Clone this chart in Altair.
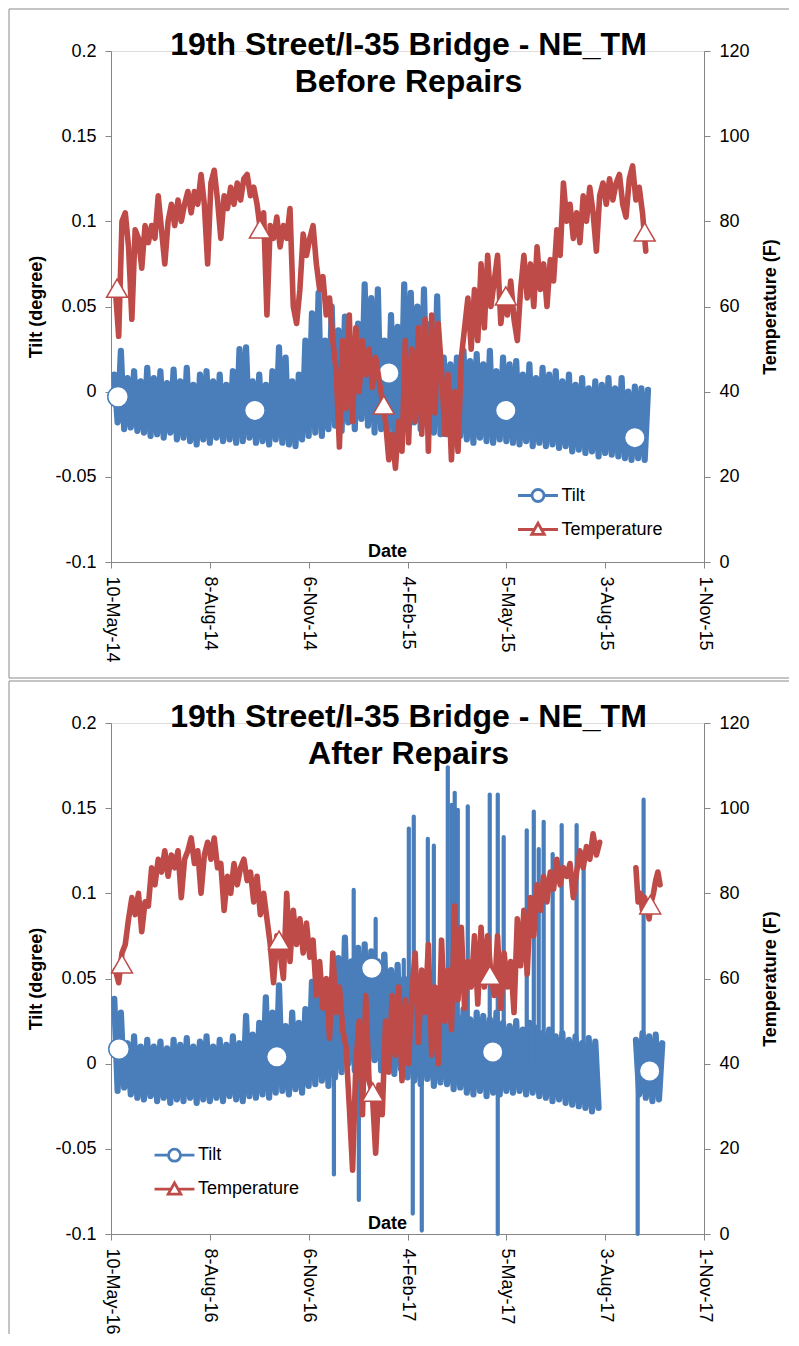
import altair as alt
import pandas as pd

BLUE = "#4a7ebb"
RED = "#be4b48"
GRAY = "#868686"
FRAME = "#8a8a8a"
FONT = "Liberation Sans"
SERIES = ["Tilt", "Temperature"]
TILT_TICKS = [-0.1, -0.05, 0, 0.05, 0.1, 0.15, 0.2]
TEMP_TICKS = [0, 20, 40, 60, 80, 100, 120]

# ---------------- Panel 1 : before repairs ----------------
P1_START = "2014-05-10"
P1_TICKS = ["2014-05-10", "2014-08-08", "2014-11-06", "2015-02-04",
            "2015-05-05", "2015-08-03", "2015-11-01"]
P1_TITLE = ["19th Street/I-35 Bridge - NE_TM", "Before Repairs"]

P1_TILT_DAYS = list(range(3, 490, 3))
P1_TILT = [
    0.010, -0.018, 0.024, -0.022, 0.008, -0.021, 0.012, -0.023, 0.006, -0.024,
    0.014, -0.026, 0.008, -0.025, 0.012, -0.027, 0.005, -0.024, 0.013, -0.028,
    0.006, -0.027, 0.014, -0.029, 0.004, -0.031, 0.010, -0.028, 0.012, -0.030,
    0.006, -0.027, 0.010, -0.029, 0.004, -0.028, 0.012, -0.030, 0.025, -0.029,
    0.026, -0.027, 0.006, -0.030, 0.010, -0.029, 0.004, -0.031, 0.012, -0.028,
    0.026, -0.030, 0.020, -0.031, 0.006, -0.032, 0.010, -0.028, 0.030, -0.026,
    0.046, -0.024, 0.058, -0.026, 0.030, -0.022, 0.050, -0.020, 0.036, -0.023,
    0.044, -0.018, 0.030, -0.022, 0.040, -0.016, 0.063, -0.020, 0.055, -0.024,
    0.060, -0.022, 0.030, -0.024, 0.045, -0.026, 0.038, -0.022, 0.063, -0.020,
    0.058, -0.018, 0.050, -0.022, 0.060, -0.020, 0.040, -0.024, 0.056, -0.025,
    0.020, -0.025, 0.016, -0.023, 0.020, -0.026, 0.024, -0.028, 0.018, -0.030,
    0.022, -0.027, 0.016, -0.029, 0.024, -0.030, 0.012, -0.028, 0.020, -0.029,
    0.016, -0.030, 0.018, -0.031, 0.010, -0.029, 0.016, -0.032, 0.008, -0.030,
    0.014, -0.032, 0.010, -0.031, 0.012, -0.033, 0.006, -0.032, 0.010, -0.035,
    0.004, -0.034, 0.008, -0.036, 0.002, -0.035, 0.006, -0.038, 0.004, -0.036,
    0.008, -0.037, 0.002, -0.038, 0.008, -0.039, 0.000, -0.040, 0.003, -0.039,
    0.002, -0.040, 0.001,
]
P1_TEMP_DAYS = list(range(4, 488, 3))
P1_TEMP = [
    64, 53, 80, 82, 74, 57, 78, 76, 69, 79,
    75, 79, 76, 86, 78, 70, 80, 84, 79, 85,
    80, 84, 87, 82, 87, 84, 91, 84, 70, 89,
    92, 85, 76, 86, 83, 88, 84, 89, 85, 90,
    91, 86, 88, 84, 78, 82, 58, 79, 76, 81,
    74, 79, 76, 83, 60, 56, 64, 77, 72, 76,
    79, 70, 64, 67, 58, 62, 52, 45, 27, 52,
    36, 58, 33, 55, 40, 52, 44, 50, 41, 48,
    43, 38, 33, 24, 30, 22, 33, 26, 52, 28,
    50, 33, 55, 30, 57, 26, 58, 35, 56, 45,
    30, 44, 24, 40, 26, 48, 55, 62, 50, 64,
    52, 70, 55, 72, 60, 66, 72, 56, 63, 58,
    66, 57, 52, 64, 72, 62, 70, 60, 74, 64,
    70, 60, 71, 66, 78, 72, 89, 80, 84, 76,
    82, 75, 86, 80, 88, 82, 73, 86, 89, 84,
    90, 85, 89, 91, 84, 81, 90, 93, 85, 88,
    82, 73,
]
P1_CIRC_DAYS = [6.4, 131, 253, 359.5, 477]
P1_CIRC = [-0.003, -0.011, 0.011, -0.011, -0.027]
P1_TRI_DAYS = [5.5, 135.6, 248.4, 359.5, 486]
P1_TRI = [64.3, 78.2, 36.9, 62.5, 77.5]

# ---------------- Panel 2 : after repairs ----------------
P2_START = "2016-05-10"
P2_TICKS = ["2016-05-10", "2016-08-08", "2016-11-06", "2017-02-04",
            "2017-05-05", "2017-08-03", "2017-11-01"]
P2_TITLE = ["19th Street/I-35 Bridge - NE_TM", "After Repairs"]

P2_TILT_DAYS_A = list(range(3, 445, 3))
P2_TILT_A = [
    0.038, -0.016, 0.030, -0.014, 0.012, -0.018, 0.016, -0.020, 0.010, -0.021,
    0.014, -0.019, 0.010, -0.022, 0.013, -0.020, 0.009, -0.023, 0.014, -0.021,
    0.011, -0.022, 0.015, -0.020, 0.010, -0.023, 0.013, -0.021, 0.016, -0.022,
    0.010, -0.020, 0.014, -0.022, 0.011, -0.019, 0.016, -0.021, 0.012, -0.022,
    0.028, -0.019, 0.017, -0.020, 0.024, -0.018, 0.039, -0.020, 0.030, -0.017,
    0.046, -0.016, 0.022, -0.018, 0.030, -0.015, 0.024, -0.017, 0.032, -0.013,
    0.048, -0.012, 0.055, -0.010, 0.040, -0.013, 0.050, -0.008, 0.062, -0.005,
    0.074, 0.000, 0.060, -0.004, 0.068, -0.006, 0.070, -0.002, 0.066, 0.002,
    0.060, -0.004, 0.064, 0.000, 0.055, -0.006, 0.058, -0.003, 0.050, -0.008,
    0.052, -0.010, 0.045, -0.012, 0.050, -0.009, 0.046, -0.013, 0.040, -0.011,
    0.036, -0.012, 0.030, -0.015, 0.028, -0.014, 0.032, -0.017, 0.026, -0.018,
    0.030, -0.016, 0.028, -0.019, 0.026, -0.017, 0.030, -0.018, 0.024, -0.016,
    0.022, -0.017, 0.025, -0.016, 0.020, -0.018, 0.024, -0.017, 0.021, -0.019,
    0.018, -0.020, 0.020, -0.022, 0.016, -0.021, 0.018, -0.023, 0.014, -0.024,
    0.016, -0.025, 0.012, -0.026, 0.015, -0.028, 0.013, -0.026,
]
P2_TILT_DAYS_B = list(range(478, 503, 3))
P2_TILT_B = [0.014, -0.018, 0.018, -0.020, 0.016, -0.022, 0.017, -0.021, 0.012]

P2_TEMP_DAYS_A = list(range(4, 446, 3))
P2_TEMP_A = [
    62, 59, 66, 68, 74, 79, 75, 80, 71, 78,
    77, 86, 82, 88, 85, 90, 84, 89, 86, 90,
    79, 88, 90, 93, 87, 90, 80, 89, 92, 88,
    93, 86, 87, 76, 84, 80, 87, 82, 86, 88,
    83, 85, 78, 84, 75, 80, 74, 68, 59, 70,
    66, 60, 80, 64, 76, 68, 74, 66, 73, 65,
    69, 56, 64, 53, 60, 46, 66, 52, 58, 48,
    44, 30, 15, 40, 50, 28, 56, 36, 33, 19,
    35, 28, 50, 38, 56, 42, 58, 36, 55, 40,
    57, 66, 45, 62, 52, 68, 42, 58, 40, 69,
    50, 62, 48, 77, 55, 72, 53, 64, 58, 70,
    54, 72, 58, 70, 61, 56, 70, 53, 66, 58,
    64, 52, 74, 63, 76, 61, 79, 70, 82, 76,
    84, 78, 85, 81, 88, 82, 86, 84, 87, 79,
    85, 90, 86, 91, 88, 94, 89, 92,
]
P2_TEMP_DAYS_B = list(range(478, 501, 2))
P2_TEMP_B = [86, 78, 80, 76, 79, 77, 74, 78, 80, 83, 85, 82]

P2_SPIKE_DAYS = [203.0, 221.0, 225.7, 241.0, 248.0, 266.6, 271.2, 274.8, 275.7,
                 283.0, 288.5, 294.0, 306.7, 310.3, 313.0, 315.8, 324.9, 344.9,
                 352.2, 357.6, 378.6, 385.0, 389.5, 394.0, 402.2, 410.4, 424.0,
                 430.4, 479.6, 485.0]
P2_SPIKE_TOP = [0.0, 0.102, 0.0, 0.085, 0.064, 0.061, 0.138, 0.0, 0.145,
                0.0, 0.132, 0.128, 0.174, 0.152, 0.159, 0.149, 0.151, 0.158,
                0.158, 0.133, 0.137, 0.148, 0.126, 0.142, 0.123, 0.140, 0.140,
                0.114, 0.005, 0.155]
P2_SPIKE_BOT = [-0.065, 0.020, -0.080, 0.020, 0.0, 0.0, 0.0, -0.088, 0.0,
                -0.098, 0.0, 0.0, 0.0, 0.0, 0.0, 0.0, 0.0, 0.0,
                -0.100, 0.0, 0.0, 0.0, 0.0, 0.0, 0.0, 0.0, 0.0,
                0.0, -0.100, 0.0]

P2_CIRC_DAYS = [7.3, 151, 237.5, 347.6, 490.5]
P2_CIRC = [0.0086, 0.004, 0.056, 0.0069, -0.0043]
P2_TRI_DAYS = [10, 153, 238.4, 345, 491]
P2_TRI = [63.4, 69.0, 33.3, 60.8, 77.3]

# legend symbols: line with circle / line with triangle (unit box, scaled by symbolSize)
SYM_CIRCLE = ("M-1.33,0H-0.4M0.4,0H1.33M-0.4,0A0.4,0.4,0,1,1,0.4,0"
              "A0.4,0.4,0,1,1,-0.4,0Z")
SYM_TRI = "M-1.33,0H-0.24M0.24,0H1.33M0,-0.42L0.42,0.33L-0.42,0.33Z"

W, H = 593, 511
TILT_W = 6.2
TEMP_W = 5.6


def to_dates(start, days):
    t0 = pd.Timestamp(start)
    return [(t0 + pd.Timedelta(days=float(d))).strftime("%Y-%m-%dT%H:%M:%S") for d in days]


def dtime(s):
    t = pd.Timestamp(s)
    return alt.DateTime(year=t.year, month=t.month, date=t.day)


def frame_line(x, x2, y, y2):
    return alt.Chart(pd.DataFrame({"k": [0]})).mark_rule(
        color=FRAME, strokeWidth=1).encode(
        x=alt.value(x), x2=alt.value(x2), y=alt.value(y), y2=alt.value(y2))


def make_panel(start, ticks, title, tilt_parts, temp_parts, circ, tri, spikes,
               legend_xy, frame_bottom, close_frame):
    x_enc = alt.X(
        "date:T",
        scale=alt.Scale(domain=[dtime(ticks[0]), dtime(ticks[-1])]),
        axis=alt.Axis(
            values=[dtime(t) for t in ticks], format="%-d-%b-%y",
            labelAngle=90, labelAlign="left", labelBaseline="middle",
            labelPadding=8, labelFontSize=18, labelFont=FONT, labelColor="black",
            labelFlush=False, labelOverlap=False,
            tickSize=6, tickColor=GRAY, domainColor=GRAY, grid=False,
            title="Date", titleFont=FONT, titleFontSize=18, titleFontWeight="bold",
            titleColor="black", titleX=276, titleY=-11, titleAlign="center",
            titleBaseline="middle"))
    tilt_y = alt.Y(
        "tilt:Q", scale=alt.Scale(domain=[-0.1, 0.2], nice=False, zero=False),
        axis=alt.Axis(
            values=TILT_TICKS, labelExpr="toString(round(datum.value*100)/100)",
            labelFontSize=18, labelFont=FONT, labelColor="black", labelPadding=9,
            labelFlush=False, labelOverlap=False,
            tickSize=6, tickColor=GRAY, domainColor=GRAY, grid=False,
            title="Tilt (degree)", titleFont=FONT, titleFontSize=18,
            titleFontWeight="bold", titleColor="black", titleAngle=270,
            titleX=-75, titleY=H / 2, titleAlign="center", titleBaseline="middle"))
    temp_y = alt.Y(
        "temp:Q", scale=alt.Scale(domain=[0, 120], nice=False, zero=False),
        axis=alt.Axis(
            orient="right", values=TEMP_TICKS, format="d",
            labelFontSize=18, labelFont=FONT, labelColor="black", labelPadding=9,
            labelFlush=False, labelOverlap=False,
            tickSize=6, tickColor=GRAY, domainColor=GRAY, grid=False,
            title="Temperature (F)", titleFont=FONT, titleFontSize=18,
            titleFontWeight="bold", titleColor="black", titleAngle=270,
            titleX=66, titleY=H / 2, titleAlign="center", titleBaseline="middle"))

    tilt_rows = []
    for seg, (days, vals) in enumerate(tilt_parts):
        for d, v in zip(to_dates(start, days), vals):
            tilt_rows.append({"date": d, "tilt": v, "seg": seg})
    temp_rows = []
    for seg, (days, vals) in enumerate(temp_parts):
        for d, v in zip(to_dates(start, days), vals):
            temp_rows.append({"date": d, "temp": v, "seg": seg})

    tilt_line = alt.Chart(pd.DataFrame(tilt_rows)).mark_line(
        color=BLUE, strokeWidth=TILT_W, strokeJoin="round", strokeCap="round").encode(
        x=x_enc, y=tilt_y, detail="seg:N")
    tilt_layers = [tilt_line]
    if spikes is not None:
        sd, st, sb = spikes
        sp_df = pd.DataFrame({"date": to_dates(start, sd), "tilt": st, "bot": sb})
        tilt_layers.append(
            alt.Chart(sp_df).mark_rule(color=BLUE, strokeWidth=4.2, strokeCap="round").encode(
                x=x_enc, y=tilt_y, y2="bot:Q"))
    circ_df = pd.DataFrame({"date": to_dates(start, circ[0]), "tilt": circ[1]})
    tilt_layers.append(
        alt.Chart(circ_df).mark_point(shape="circle", filled=True, fill="white",
                                      stroke=BLUE, strokeWidth=1.5, size=420,
                                      opacity=1).encode(x=x_enc, y=tilt_y))

    temp_line = alt.Chart(pd.DataFrame(temp_rows)).mark_line(
        color=RED, strokeWidth=TEMP_W, strokeJoin="round", strokeCap="round").encode(
        x=x_enc, y=temp_y, detail="seg:N")
    tri_df = pd.DataFrame({"date": to_dates(start, tri[0]), "temp": tri[1]})
    tri_marks = alt.Chart(tri_df).mark_point(shape="triangle-up", filled=True, fill="white",
                                             stroke=RED, strokeWidth=1.5, size=440,
                                             opacity=1).encode(x=x_enc, y=temp_y)

    leg = alt.Legend(orient="none", legendX=legend_xy[0], legendY=legend_xy[1],
                     title=None, labelFont=FONT, labelFontSize=18, labelColor="black",
                     symbolSize=900, symbolStrokeWidth=2.8, symbolFillColor="white",
                     symbolOpacity=1, rowPadding=5, labelOffset=7, padding=0,
                     direction="vertical")
    leg_df = pd.DataFrame({"series": SERIES})
    legend = alt.Chart(leg_df).mark_point(clip=True, filled=False, fill="white",
                                          fillOpacity=1, opacity=1, strokeWidth=2.8).encode(
        x=alt.value(-600), y=alt.value(-600),
        stroke=alt.Stroke("series:N", scale=alt.Scale(domain=SERIES, range=[BLUE, RED]),
                          legend=leg),
        shape=alt.Shape("series:N", scale=alt.Scale(domain=SERIES, range=[SYM_CIRCLE, SYM_TRI]),
                        legend=leg))

    t1 = alt.Chart(pd.DataFrame({"t": [title[0]]})).mark_text(
        font=FONT, fontSize=32, fontWeight="bold", color="black", align="center",
        baseline="alphabetic").encode(text="t:N", x=alt.value(W / 2 + 1), y=alt.value(3.5))
    t2 = alt.Chart(pd.DataFrame({"t": [title[1]]})).mark_text(
        font=FONT, fontSize=32, fontWeight="bold", color="black", align="center",
        baseline="alphabetic").encode(text="t:N", x=alt.value(W / 2 + 1), y=alt.value(41))

    frames = [
        frame_line(-102, 678, -42, -42),
        frame_line(-102, -102, -42, frame_bottom),
    ]
    if close_frame:
        frames.append(frame_line(-102, 678, frame_bottom, frame_bottom))

    return alt.layer(
        *frames,
        alt.layer(*tilt_layers),
        alt.layer(temp_line, tri_marks),
        legend, t1, t2,
    ).resolve_scale(y="independent").properties(width=W, height=H)


panel1 = make_panel(
    P1_START, P1_TICKS, P1_TITLE,
    [(P1_TILT_DAYS, P1_TILT)], [(P1_TEMP_DAYS, P1_TEMP)],
    (P1_CIRC_DAYS, P1_CIRC), (P1_TRI_DAYS, P1_TRI), None,
    (410.5, 428), 627, True)

panel2 = make_panel(
    P2_START, P2_TICKS, P2_TITLE,
    [(P2_TILT_DAYS_A, P2_TILT_A), (P2_TILT_DAYS_B, P2_TILT_B)],
    [(P2_TEMP_DAYS_A, P2_TEMP_A), (P2_TEMP_DAYS_B, P2_TEMP_B)],
    (P2_CIRC_DAYS, P2_CIRC), (P2_TRI_DAYS, P2_TRI),
    (P2_SPIKE_DAYS, P2_SPIKE_TOP, P2_SPIKE_BOT),
    (47, 415.7), 611, False)

chart = alt.vconcat(panel1, panel2, spacing=1).resolve_scale(
    stroke="independent", shape="independent").resolve_legend(
    stroke="independent", shape="independent").properties(
    padding=0, background="white").configure_view(stroke=None).configure(font=FONT)

chart.save("out.html", embed_options={"renderer": "svg", "actions": False})
